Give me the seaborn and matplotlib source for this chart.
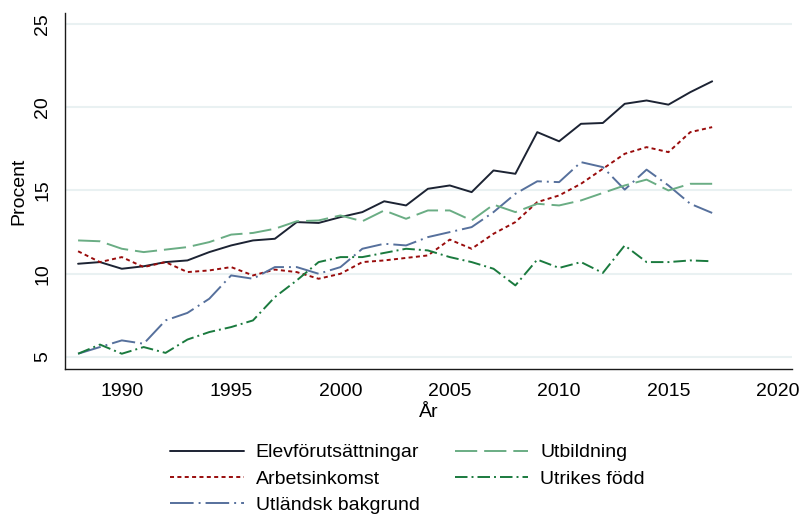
import pandas as pd
import seaborn as sns
import matplotlib.pyplot as plt

sns.set_theme(style="white")
plt.rcParams['font.family'] = ['Liberation Sans', 'DejaVu Sans']
plt.rcParams['lines.scale_dashes'] = False
plt.rcParams['text.color'] = 'black'

years = list(range(1988, 2018))

elev = [10.6, 10.7, 10.3, 10.45, 10.7, 10.8, 11.3, 11.7, 12.0, 12.1,
        13.1, 13.05, 13.4, 13.7, 14.35, 14.1, 15.1, 15.3, 14.9, 16.2,
        16.0, 18.5, 17.95, 19.0, 19.05, 20.2, 20.4, 20.15, 20.9, 21.55]
arbets = [11.35, 10.7, 11.0, 10.4, 10.7, 10.1, 10.2, 10.4, 9.9, 10.25,
          10.1, 9.7, 10.0, 10.7, 10.8, 10.95, 11.1, 12.05, 11.5, 12.4,
          13.1, 14.3, 14.7, 15.4, 16.3, 17.2, 17.6, 17.3, 18.5, 18.8]
utlandsk = [5.2, 5.6, 6.0, 5.8, 7.2, 7.65, 8.5, 9.9, 9.7, 10.4,
            10.4, 10.0, 10.4, 11.5, 11.8, 11.7, 12.2, 12.5, 12.8, 13.7,
            14.8, 15.55, 15.5, 16.7, 16.4, 15.05, 16.25, 15.3, 14.2, 13.65]
utbildning = [12.0, 11.95, 11.5, 11.3, 11.45, 11.6, 11.9, 12.35, 12.45, 12.7,
              13.15, 13.2, 13.5, 13.15, 13.8, 13.3, 13.8, 13.8, 13.2, 14.15,
              13.7, 14.2, 14.1, 14.4, 14.85, 15.3, 15.65, 15.0, 15.4, 15.4]
utrikes = [5.2, 5.75, 5.2, 5.6, 5.25, 6.05, 6.5, 6.8, 7.2, 8.6,
           9.6, 10.7, 11.0, 11.0, 11.25, 11.5, 11.4, 11.0, 10.7, 10.3,
           9.3, 10.85, 10.35, 10.7, 10.05, 11.7, 10.7, 10.7, 10.8, 10.75]

names = ['Elevförutsättningar', 'Arbetsinkomst', 'Utländsk bakgrund',
         'Utbildning', 'Utrikes född']
series = [elev, arbets, utlandsk, utbildning, utrikes]

df = pd.DataFrame({
    'År': years * len(names),
    'Procent': [v for s in series for v in s],
    'serie': [n for n in names for _ in years],
})

colors = ['#1c2333', '#990c0c', '#56709c', '#6aad84', '#1a7a3e']
dashes = {
    'Elevförutsättningar': '',
    'Arbetsinkomst': (2.9, 2.4),
    'Utländsk bakgrund': (17, 3.6, 1.4, 3.6),
    'Utbildning': (16, 5),
    'Utrikes född': (9, 2.9, 1.4, 2.9),
}

fig = plt.figure(figsize=(8.02, 5.14), dpi=100)
ax = fig.add_axes([0.081, 0.282, 0.9065, 0.693])

sns.lineplot(data=df, x='År', y='Procent', hue='serie', style='serie',
             hue_order=names, style_order=names, palette=colors,
             dashes=dashes, linewidth=1.4, ax=ax)
ax.get_legend().remove()

ax.set_xlim(1987.4, 2020.65)
ax.set_ylim(4.28, 25.66)
ax.set_xticks([1990, 1995, 2000, 2005, 2010, 2015, 2020])
ax.set_yticks([5, 10, 15, 20, 25])
ax.grid(axis='y', color='#e9f1f2', linewidth=1.5)
ax.set_axisbelow(True)

for side in ['top', 'right']:
    ax.spines[side].set_visible(False)
for side in ['left', 'bottom']:
    ax.spines[side].set_color('#1a1a1a')
    ax.spines[side].set_linewidth(1.0)

ax.tick_params(axis='both', direction='out', length=6, width=1.0,
               color='#1a1a1a', labelsize=14, labelcolor='black')
ax.tick_params(axis='x', pad=4)
ax.tick_params(axis='y', pad=4)
plt.setp(ax.get_yticklabels(), rotation=90, va='center')

ax.set_xlabel('År', fontsize=14, labelpad=3, color='black')
ax.set_ylabel('Procent', fontsize=14, labelpad=5, color='black')

# legend below the plot, two columns
handles = ax.get_lines()[:5]
fig.legend(handles, names, ncol=2, loc='center',
           bbox_to_anchor=(0.508, 0.068), frameon=False, fontsize=14,
           handlelength=3.8, handletextpad=0.6, columnspacing=1.8,
           labelspacing=0.45)

fig.savefig('out.png', dpi=100)
